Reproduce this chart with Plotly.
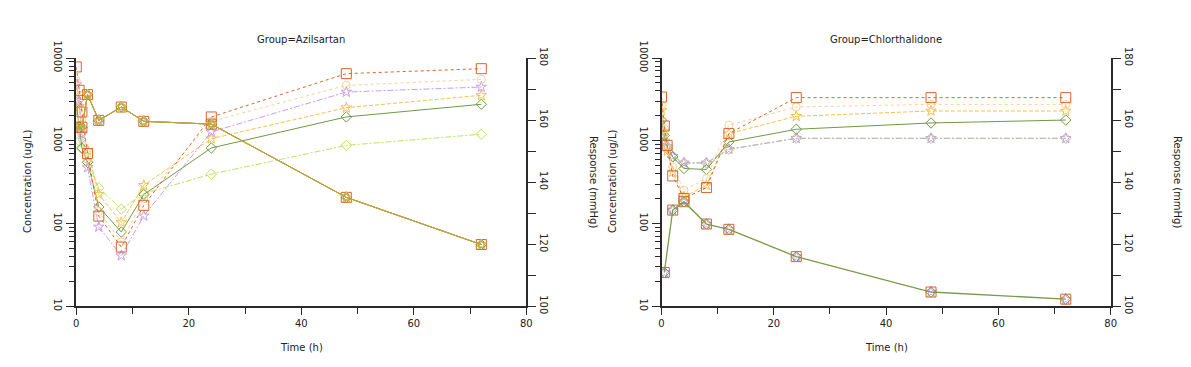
import plotly.graph_objects as go

# ---------------- data ----------------
time_conc = [0, 0.5, 1, 2, 4, 8, 12, 24, 48, 72]

# Group = Azilsartan (concentration, ug/L)
azi_orange = [7800, 4070, 2225, 700, 123, 52, 166, 1940, 6470, 7430]
azi_peach = [5300, 3500, 1800, 600, 140, 60, 200, 1720, 4670, 5520]
azi_purple = [4760, 3000, 1200, 475, 91, 41, 124, 1280, 3880, 4460]
azi_yellow = [3700, 2600, 1400, 770, 226, 103, 290, 1060, 2510, 3540]
azi_green = [2900, 1500, 820, 550, 159, 79, 224, 819, 1940, 2760]
azi_lgreen = [1500, 1000, 800, 550, 270, 149, 230, 395, 880, 1200]

time_resp_azi = [0, 1, 2, 4, 8, 12, 24, 48, 72]
azi_resp = [157.7, 157.7, 168.2, 159.9, 164.2, 159.6, 158.7, 135.1, 119.9]

# Group = Chlorthalidone (concentration, ug/L)
chl_orange = [3375, 1510, 880, 376, 201, 272, 1220, 3320, 3320, 3320]
chl_peach = [2680, 1400, 800, 483, 253, 350, 1540, 2560, 2750, 2750]
chl_yellow = [2330, 1300, 750, 420, 210, 290, 1220, 1977, 2290, 2290]
chl_green = [1770, 1165, 800, 638, 462, 450, 968, 1377, 1640, 1780]
chl_grey = [1110, 1000, 850, 650, 540, 540, 790, 1070, 1070, 1070]

time_resp_chl = [0.5, 2, 4, 8, 12, 24, 48, 72]
chl_resp = [110.9, 131.0, 133.7, 126.5, 124.8, 116.0, 104.6, 102.3]

x_ticks = [0, 20, 40, 60, 80]
x_minor = [10, 30, 50, 70]
conc_ticks = [10, 100, 1000, 10000]
conc_minor = [m * d for d in (10, 100, 1000) for m in range(2, 10)]
resp_ticks = [100, 120, 140, 160, 180]
resp_minor = [110, 130, 150, 170]

# ---------------- styles ----------------
ORANGE = "#d8652a"
PEACH = "#f6cf9f"
PURPLE = "#c99de6"
YELLOW = "#f4c14a"
GREEN = "#6e9a46"
LGREEN = "#b9e35f"

DOT = "dot"
DASH = "4px,2px"
DASHDOT = "6px,2px,2px,2px"

FONT = "DejaVu Sans"

fig = go.Figure()


def add(x, y, color, dash, symbol, xa, ya, msize=8, mode="lines+markers", lw=1):
    fig.add_trace(go.Scatter(
        x=x, y=y, mode=mode, xaxis=xa, yaxis=ya,
        line=dict(color=color, width=lw, dash=dash),
        marker=dict(symbol=symbol, size=msize, color=color, line=dict(color=color, width=1)),
        showlegend=False, hoverinfo="x+y"))


# Left panel: concentrations
add(time_conc, azi_lgreen, LGREEN, DASHDOT, "diamond-open", "x", "y")
add(time_conc, azi_green, GREEN, "solid", "diamond-open", "x", "y")
add(time_conc, azi_yellow, YELLOW, DASH, "star-open", "x", "y", 8)
add(time_conc, azi_purple, PURPLE, DASHDOT, "star-open", "x", "y", 8)
add(time_conc, azi_peach, PEACH, DOT, "circle-open", "x", "y")
add(time_conc, azi_orange, ORANGE, DOT, "square-open", "x", "y", 10)

# Left panel: responses (overlapping subjects)
add(time_resp_azi, azi_resp, PURPLE, "solid", "star-open", "x", "y2", 8)
add(time_resp_azi, azi_resp, ORANGE, "solid", "square-open", "x", "y2", 10)
add(time_resp_azi, azi_resp, GREEN, "solid", "diamond-open", "x", "y2")
add(time_resp_azi, azi_resp, YELLOW, "solid", "star-open", "x", "y2", 8)
add(time_resp_azi, azi_resp, "#b4a23c", "solid", "circle-open", "x", "y2", 6)

# Right panel: concentrations
add(time_conc, chl_grey, PURPLE, DASHDOT, "star-open", "x3", "y3", 8)
add(time_conc, chl_grey, "#b9c39a", DASHDOT, "diamond-open", "x3", "y3")
add(time_conc, chl_green, GREEN, "solid", "diamond-open", "x3", "y3")
add(time_conc, chl_yellow, YELLOW, DASH, "star-open", "x3", "y3", 8)
add(time_conc, chl_peach, PEACH, DOT, "circle-open", "x3", "y3")
add(time_conc, chl_orange, ORANGE, DOT, "square-open", "x3", "y3", 10)

# Right panel: responses
add(time_resp_chl, chl_resp, PURPLE, "solid", "star-open", "x3", "y4", 8, mode="markers")
add(time_resp_chl, chl_resp, ORANGE, "solid", "square-open", "x3", "y4", 10, mode="markers")
add(time_resp_chl, chl_resp, "#7c9a4a", "solid", "diamond-open", "x3", "y4", lw=1.3)

# page body has an 8px default margin: work in window pixels, convert to paper
OFF = 8
W, H = 1191 - OFF, 367 - OFF


def px(v):
    return (v - OFF) / W


def py(v):
    return 1 - (v - OFF) / H


ytop, ybot = 58, 306.3
ydom = [py(ybot), py(ytop)]
xdomL = [px(76.3), px(526.3)]
xdomR = [px(661.5), px(1110.7)]

axcol = "#2a2a2a"
tickfont = dict(family=FONT, size=10, color="#222")

xcommon = dict(range=[0, 80], tickvals=x_ticks, ticks="outside", ticklen=7, tickwidth=1,
               tickcolor=axcol, showline=True, linewidth=2, linecolor=axcol,
               showgrid=False, zeroline=False, tickfont=tickfont, automargin=False,
               minor=dict(tickmode="array", tickvals=x_minor, ticks="outside", ticklen=6,
                          tickcolor=axcol, tickwidth=1, showgrid=False))
ylog = dict(type="log", range=[1, 4], tickvals=conc_ticks, ticktext=[str(v) for v in conc_ticks],
            ticks="outside", ticklen=8, tickwidth=1, tickcolor=axcol, tickangle=90,
            showline=True, linewidth=2, linecolor=axcol, showgrid=False, zeroline=False,
            tickfont=tickfont, automargin=False,
            minor=dict(tickmode="array", tickvals=conc_minor, ticks="outside", ticklen=5,
                       tickcolor=axcol, tickwidth=1, showgrid=False))
yresp = dict(range=[100, 180], tickvals=resp_ticks, ticks="outside", ticklen=8, tickwidth=1,
             tickcolor=axcol, tickangle=90, showline=True, linewidth=2, linecolor=axcol,
             showgrid=False, zeroline=False, tickfont=tickfont, side="right", automargin=False,
             minor=dict(tickmode="array", tickvals=resp_minor, ticks="outside", ticklen=8,
                        tickcolor=axcol, tickwidth=1, showgrid=False))

fig.update_layout(
    width=W, height=H, margin=dict(l=0, r=0, t=0, b=0, autoexpand=False),
    paper_bgcolor="white", plot_bgcolor="white",
    font=dict(family=FONT, size=10, color="#222"),
    xaxis=dict(domain=xdomL, anchor="y", **xcommon),
    yaxis=dict(domain=ydom, anchor="x", **ylog),
    yaxis2=dict(overlaying="y", anchor="x", **yresp),
    xaxis3=dict(domain=xdomR, anchor="y3", **xcommon),
    yaxis3=dict(domain=ydom, anchor="x3", **ylog),
    yaxis4=dict(overlaying="y3", anchor="x3", **yresp),
)

ann = [
    ("Group=Azilsartan", 301.3, 40, 0),
    ("Group=Chlorthalidone", 886, 40, 0),
    ("Time (h)", 301.3, 347, 0),
    ("Time (h)", 886, 347, 0),
    ("Concentration (ug/L)", 27, 182, -90),
    ("Concentration (ug/L)", 612, 182, -90),
    ("Response (mmHg)", 594, 182, 90),
    ("Response (mmHg)", 1178, 182, 90),
]
for text, ax_, ay_, ang in ann:
    fig.add_annotation(text=text, x=px(ax_), y=py(ay_), xref="paper", yref="paper",
                       showarrow=False, textangle=ang, xanchor="center", yanchor="middle",
                       font=dict(family=FONT, size=10, color="#222"))

fig.write_html("out.html")
